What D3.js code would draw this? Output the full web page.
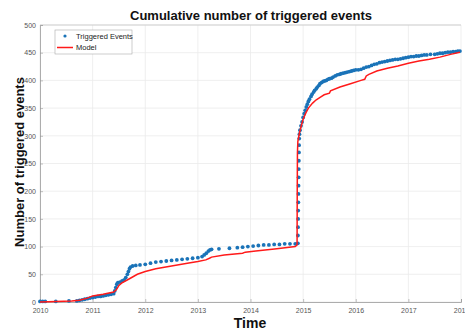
<!DOCTYPE html>
<html><head><meta charset="utf-8">
<script src="https://cdn.jsdelivr.net/npm/d3@7"></script>
<style>body{margin:0;background:#fff}svg{display:block}text{font-family:"Liberation Sans",Arial,sans-serif}</style>
</head><body><div id="chart"></div>
<script>
const yearTicks = [2010,2011,2012,2013,2014,2015,2016,2017,2018];
const xTickLabels = ["2010","2011","2012","2013","2014","2015","2016","2017","201"];
const yTicks = [0,50,100,150,200,250,300,350,400,450,500];

// Triggered events: [decimal year, cumulative count]
const eventTimes = [2010.0,2010.05,2010.1,2010.3,2010.55,2010.7,2010.75,2010.8,2010.85,2010.9,2010.95,2011.0,2011.05,2011.1,2011.15,2011.2,2011.25,2011.3,2011.35,2011.4,
 2011.42,2011.44,2011.46,2011.48,2011.52,2011.56,2011.6,2011.63,2011.66,2011.68,2011.7,2011.72,2011.76,2011.82,2011.9,2012.0,2012.1,2012.2,2012.3,2012.4,
 2012.5,2012.6,2012.7,2012.8,2012.9,2013.0,2013.08,2013.12,2013.16,2013.2,2013.23,2013.26,2013.4,2013.6,2013.75,2013.85,2013.95,2014.05,2014.15,2014.25,
 2014.35,2014.45,2014.55,2014.65,2014.75,2014.85,2014.9,2014.901,2014.903,2014.905,2014.907,2014.909,2014.911,2014.913,2014.915,2014.917,2014.919,2014.921,2014.923,2014.926,2014.93,
 2014.94,2014.96,2014.98,2015.0,2015.02,2015.04,2015.06,2015.08,2015.1,2015.12,2015.15,2015.17,2015.2,2015.22,2015.25,2015.27,2015.3,2015.32,2015.35,2015.38,2015.41,2015.44,2015.47,2015.5,
 2015.54,2015.57,2015.61,2015.65,2015.69,2015.72,2015.76,2015.8,2015.84,2015.88,2015.92,2015.96,2016.0,2016.05,2016.1,2016.15,2016.2,2016.25,2016.3,2016.35,2016.4,2016.45,2016.5,2016.55,2016.6,2016.65,2016.7,2016.75,2016.8,2016.85,2016.9,2016.95,
 2017.0,2017.05,2017.1,2017.15,2017.2,2017.25,2017.3,2017.35,2017.42,2017.5,2017.55,2017.6,2017.65,2017.7,2017.75,2017.8,2017.85,2017.9,2017.94,2017.98];
const eventCounts = [1,1,1,1,2,2,3,4,5,6,7,8,9,10,10,11,12,13,14,15,
 20,26,32,35,36,38,40,44,50,55,60,63,65,66,67,68,70,72,73,74,
 75,76,77,78,79,80,82,85,88,92,94,95,96,97,98,99,100,101,102,103,
 103,104,104,105,105,105,106,120,135,150,165,180,195,210,225,240,255,270,283,295,303,
 310,318,325,333,340,346,352,357,362,366,371,375,379,382,385,388,391,394,396,398,399,400,402,403,
 404,406,408,410,411,412,413,414,415,416,417,418,419,419,420,422,424,425,427,429,430,432,433,434,435,436,437,438,438,439,440,441,
 442,443,443,444,444,445,446,446,447,447,448,449,449,450,451,451,452,452,453,453];

// Model: [decimal year, cumulative count]
const modelTimes = [2010.0,2010.3,2010.6,2010.75,2010.9,2011.0,2011.2,2011.4,2011.45,2011.5,2011.55,2011.7,2011.85,2012.0,2012.2,2012.5,2012.8,2013.0,2013.15,2013.22,2013.26,2013.5,2013.85,2013.9,2014.1,2014.5,2014.85,2014.885,
 2014.888,2014.892,2014.9,2014.93,2014.97,2015.0,2015.05,2015.1,2015.18,2015.25,2015.33,2015.4,2015.5,2015.52,2015.7,2015.9,2016.1,2016.17,2016.2,2016.25,2016.4,2016.6,2016.8,2017.0,2017.2,2017.4,2017.6,2017.8,2017.98];
const modelCounts = [0,1,2,3,7,11,14,18,22,30,34,42,50,55,60,65,70,73,76,79,81,85,88,90,92,96,100,103,
 200,270,290,305,320,330,341,350,359,365,370,374,377,381,388,394,400,402,408,411,417,422,426,431,435,438,442,447,451];

const W = 465, H = 331;
const m = {l:40, r:4, t:25, b:29};
const svg = d3.select("#chart").append("svg").attr("width",W).attr("height",H);
const x = d3.scaleLinear().domain([2010,2018]).range([m.l, W-m.r]);
const y = d3.scaleLinear().domain([0,500]).range([H-m.b, m.t]);

// grid
const g = svg.append("g");
g.selectAll(".vg").data(yearTicks).join("line").attr("x1",d=>x(d)).attr("x2",d=>x(d)).attr("y1",y(0)).attr("y2",y(500)).attr("stroke","#ebebeb").attr("stroke-width",0.8);
g.selectAll(".hg").data(yTicks).join("line").attr("x1",x(2010)).attr("x2",x(2018)).attr("y1",d=>y(d)).attr("y2",d=>y(d)).attr("stroke","#ebebeb").attr("stroke-width",0.8);

// axes
const xa = svg.append("g").attr("transform",`translate(0,${y(0)})`)
  .call(d3.axisBottom(x).tickValues(yearTicks).tickFormat((d,i)=>xTickLabels[i]).tickSize(-3).tickPadding(6));
const ya = svg.append("g").attr("transform",`translate(${x(2010)},0)`)
  .call(d3.axisLeft(y).tickValues(yTicks).tickSize(-3).tickPadding(4));
[xa,ya].forEach(a=>{
  a.select(".domain").attr("stroke","#999").attr("stroke-width",0.8);
  a.selectAll(".tick line").attr("stroke","#999").attr("stroke-width",0.6);
  a.selectAll("text").attr("fill","#555").attr("font-size","7px").attr("font-family","Liberation Sans, Arial, sans-serif");
});
// last x label sits flush with the right edge, as in the reference
xa.selectAll(".tick text").filter((d,i)=>i===yearTicks.length-1).attr("text-anchor","end").attr("dx","4px");
svg.append("line").attr("x1",x(2010)).attr("x2",x(2018)).attr("y1",y(500)).attr("y2",y(500)).attr("stroke","#bbb").attr("stroke-width",0.6);

// data
const ev = eventTimes.map((t,i)=>({t, v:eventCounts[i]}));
const md = modelTimes.map((t,i)=>({t, v:modelCounts[i]}));

svg.append("g").selectAll("circle").data(ev).join("circle")
  .attr("cx",d=>x(d.t)).attr("cy",d=>y(d.v)).attr("r",1.9).attr("fill","#1a73b8");
svg.append("path").datum(md)
  .attr("d", d3.line().x(d=>x(d.t)).y(d=>y(d.v)))
  .attr("fill","none").attr("stroke","#ff1a1a").attr("stroke-width",1.5);

// legend
const lg = svg.append("g");
lg.append("rect").attr("x",55).attr("y",30).attr("width",77).attr("height",24).attr("fill","#fff").attr("stroke","#aaa").attr("stroke-width",0.6);
lg.append("circle").attr("cx",65).attr("cy",36).attr("r",1.6).attr("fill","#1a73b8");
lg.append("text").attr("x",76).attr("y",39).attr("font-size","7.5px").attr("fill","#222").text("Triggered Events");
lg.append("line").attr("x1",57).attr("x2",73).attr("y1",47.5).attr("y2",47.5).attr("stroke","#ff1a1a").attr("stroke-width",1.5);
lg.append("text").attr("x",76).attr("y",50).attr("font-size","7.5px").attr("fill","#222").text("Model");

// titles
svg.append("text").attr("x",251).attr("y",20).attr("text-anchor","middle").attr("font-size","13px").attr("font-weight","bold").attr("fill","#111").text("Cumulative number of triggered events");
svg.append("text").attr("x",250).attr("y",328).attr("text-anchor","middle").attr("font-size","14px").attr("font-weight","bold").attr("fill","#111").text("Time");
svg.append("text").attr("transform","translate(24,162) rotate(-90)").attr("text-anchor","middle").attr("font-size","13px").attr("font-weight","bold").attr("fill","#111").text("Number of triggered events");
</script></body></html>
